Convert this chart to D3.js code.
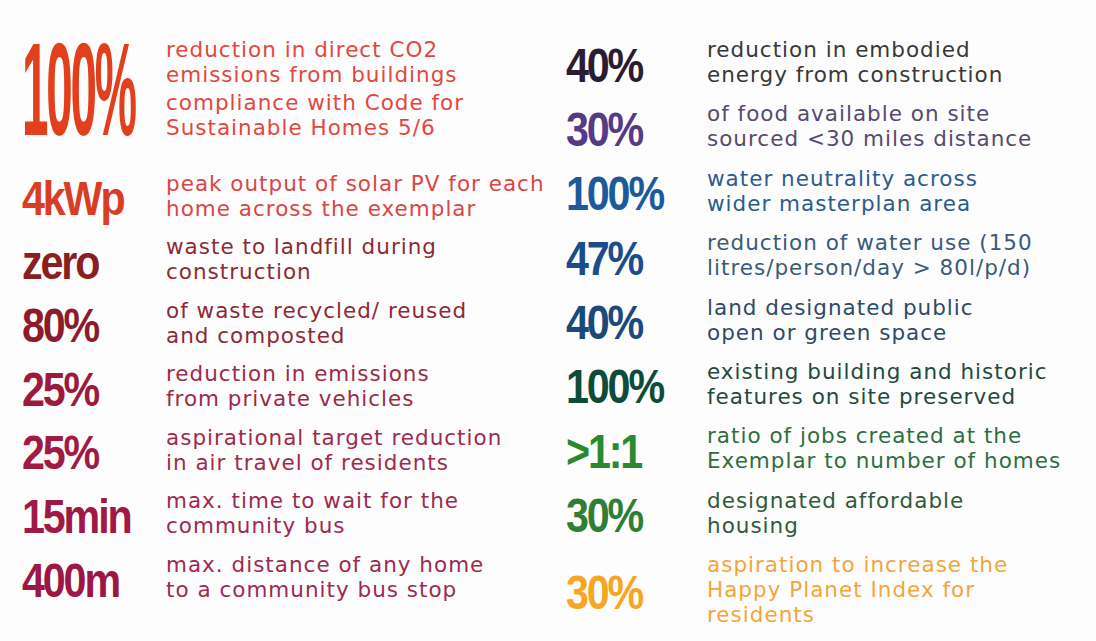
<!DOCTYPE html>
<html>
<head>
<meta charset="utf-8">
<script src="https://cdn.jsdelivr.net/npm/d3@7"></script>
<style>
  body { margin: 0; background: #ffffff; }
</style>
</head>
<body>
<div id="targets"></div>
<script>
// left column: figures and the text that goes with them
const leftFigures = ["100%", "4kWp", "zero", "80%", "25%", "25%", "15min", "400m"];
const leftNotes = [
  [["reduction in direct CO2", "emissions from buildings"], ["compliance with Code for", "Sustainable Homes 5/6"]],
  [["peak output of solar PV for each", "home across the exemplar"]],
  [["waste to landfill during", "construction"]],
  [["of waste recycled/ reused", "and composted"]],
  [["reduction in emissions", "from private vehicles"]],
  [["aspirational target reduction", "in air travel of residents"]],
  [["max. time to wait for the", "community bus"]],
  [["max. distance of any home", "to a  community bus stop"]]
];

// right column
const rightFigures = ["40%", "30%", "100%", "47%", "40%", "100%", ">1:1", "30%", "30%"];
const rightNotes = [
  [["reduction in embodied", "energy from construction"]],
  [["of food available on site", "sourced <30 miles distance"]],
  [["water neutrality across", "wider masterplan area"]],
  [["reduction of water use (150", "litres/person/day > 80l/p/d)"]],
  [["land designated public", "open or green space"]],
  [["existing building and historic", "features on site preserved"]],
  [["ratio of jobs created at the", "Exemplar to number of homes"]],
  [["designated affordable", "housing"]],
  [["aspiration to increase the", "Happy Planet Index for", "residents"]]
];

const width = 1096;
const height = 641;
const lineStep = 25;
const paraGap = 3;

const svg = d3.select("#targets")
  .append("svg")
  .attr("width", width)
  .attr("height", height)
  .style("background-color", "#fefdfd");

// colours
const leftFigColor = d3.scaleOrdinal()
  .domain(d3.range(leftFigures.length))
  .range(["#e23f1c", "#da3d26", "#8a1f22", "#8c1c2c", "#9e1a3c", "#a01a44", "#a01846", "#9c1646"]);
const leftNoteColor = d3.scaleOrdinal()
  .domain(d3.range(leftFigures.length))
  .range(["#e2473f", "#dc4446", "#8c2a34", "#8e2838", "#9c2a48", "#9e2a4c", "#9c2a50", "#9c2a52"]);
const rightFigColor = d3.scaleOrdinal()
  .domain(d3.range(rightFigures.length))
  .range(["#2b1b33", "#573a86", "#1b5a9c", "#1b4c8c", "#1a4a7c", "#0f4b3a", "#2a8a2e", "#2e7f34", "#f6a623"]);
const rightNoteColor = d3.scaleOrdinal()
  .domain(d3.range(rightFigures.length))
  .range(["#383838", "#574a6e", "#2c5b8c", "#3a5a7a", "#2d4a68", "#1f4a3c", "#2f6d3f", "#2e5a3c", "#f2a63a"]);

// vertical placement: the headline takes the room of about two rows
const leftSlot = i => i === 0 ? 0 : i + 1.1;
const leftY = d3.scaleLinear()
  .domain([0, leftSlot(leftFigures.length - 1)])
  .range([57, 572]);

const rightY = d3.scalePoint()
  .domain(d3.range(rightFigures.length))
  .range([57, 572]);

// flatten paragraphs into lines with their offsets
function noteLines(paras) {
  const out = [];
  let dy = 0;
  paras.forEach((p, pi) => {
    if (pi > 0) dy += paraGap;
    p.forEach(line => {
      out.push({ text: line, dy: dy });
      dy += lineStep;
    });
  });
  return out;
}

function drawColumn(figures, notes, yScale, figX, noteX, figColor, noteColor, headline) {
  const rows = svg.append("g")
    .selectAll("g")
    .data(figures.map((f, i) => ({ fig: f, notes: notes[i], i: i })))
    .join("g")
    .attr("transform", d => `translate(0,${yScale(d.i)})`);

  rows.each(function(d) {
    const g = d3.select(this);
    const lines = noteLines(d.notes);

    g.selectAll("text.note")
      .data(lines)
      .join("text")
      .attr("class", "note")
      .attr("x", noteX)
      .attr("y", l => l.dy)
      .text(l => l.text)
      .attr("fill", noteColor(d.i))
      .attr("font-family", "DejaVu Sans")
      .attr("font-size", 21.5)
      .attr("font-weight", 400)
      .attr("letter-spacing", 1);

    const last = lines[lines.length - 1].dy;
    const big = headline && d.i === 0;
    const base = big ? last : last / 2 + 12;

    g.append("text")
      .attr("class", "figure")
      .text(d.fig)
      .attr("transform", `translate(${figX},${base}) scale(${big ? 0.36 : 0.86},1)`)
      .attr("fill", figColor(d.i))
      .attr("font-family", "Liberation Sans")
      .attr("font-weight", 700)
      .attr("font-size", big ? 132 : 48)
      .attr("letter-spacing", big ? -6 : -2.5);
  });
}

drawColumn(leftFigures, leftNotes, d => leftY(leftSlot(d)), 22, 166, leftFigColor, leftNoteColor, true);
drawColumn(rightFigures, rightNotes, rightY, 566, 707, rightFigColor, rightNoteColor, false);
</script>
</body>
</html>
